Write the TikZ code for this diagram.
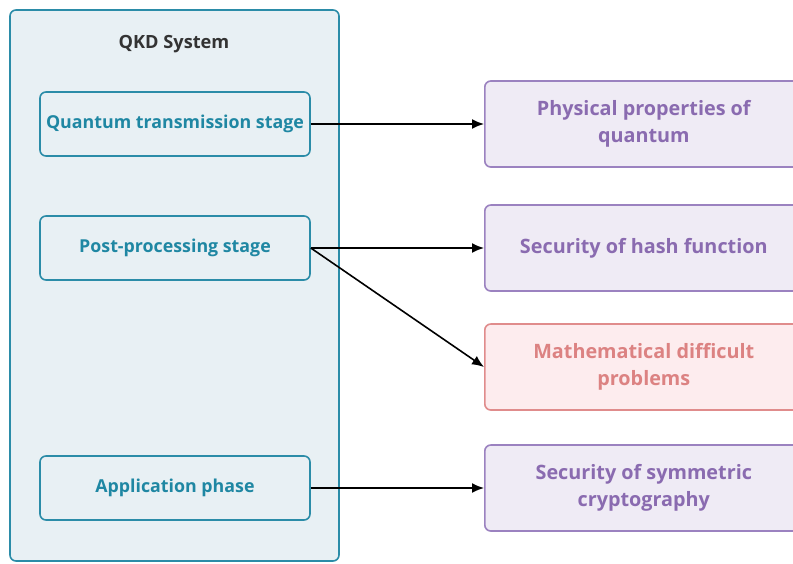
\documentclass[tikz,border=0pt]{standalone}
\usepackage{fontspec}
\setmainfont{Open Sans}
\usetikzlibrary{arrows.meta}
\definecolor{tealline}{HTML}{2B8CA8}
\definecolor{tealfill}{HTML}{E8F0F4}
\definecolor{tealtext}{HTML}{1F87A3}
\definecolor{purpline}{HTML}{9B82C0}
\definecolor{purpfill}{HTML}{EFEBF5}
\definecolor{purptext}{HTML}{8A6BB0}
\definecolor{redline}{HTML}{E08C8C}
\definecolor{redfill}{HTML}{FDECEE}
\definecolor{redtext}{HTML}{DC8282}
\definecolor{titletext}{HTML}{333333}
\tikzset{
  container/.style={draw=tealline, fill=tealfill, line width=1.6pt, rounded corners=6pt},
  stagebox/.style={draw=tealline, fill=tealfill, line width=1.6pt, rounded corners=6pt,
    minimum width=270pt, minimum height=64pt, inner sep=0pt, text=tealtext,
    font=\bfseries\fontsize{17.8}{21}\selectfont},
  propbox/.style={draw=purpline, fill=purpfill, line width=1.6pt, rounded corners=6pt,
    minimum width=318pt, minimum height=86pt, inner sep=0pt, text=purptext, align=center,
    anchor=west, font=\bfseries\fontsize{19.8}{27}\selectfont},
  hardbox/.style={propbox, draw=redline, fill=redfill, text=redtext},
  link/.style={line width=1.6pt, -{Latex[length=12pt,width=10pt]}}
}
\begin{document}
\begin{tikzpicture}[x=1pt,y=-1pt]
\useasboundingbox (0,0) rectangle (793,563);
\fill[white] (0,0) rectangle (793,563);
% system container
\draw[container] (10,10) rectangle (339,561);
\node[text=titletext, font=\bfseries\fontsize{18.2}{21}\selectfont] (title) at (174,44) {QKD System};
% stages
\node[stagebox] (qt) at (175,124) {Quantum transmission stage};
\node[stagebox] (pp) at (175,248) {Post-processing stage};
\node[stagebox] (ap) at (175,488) {Application phase};
% security foundations
\node[propbox] (phys) at (484,124) {Physical properties of\\quantum};
\node[propbox] (hash) at (484,248) {Security of hash function};
\node[hardbox] (math) at (484,367) {Mathematical difficult\\problems};
\node[propbox] (sym) at (484,488) {Security of symmetric\\cryptography};
% connectors
\draw[link] (qt.east) -- (phys.west);
\draw[link] (pp.east) -- (hash.west);
\draw[link] (pp.east) -- (math.west);
\draw[link] (ap.east) -- (sym.west);
\end{tikzpicture}
\end{document}
